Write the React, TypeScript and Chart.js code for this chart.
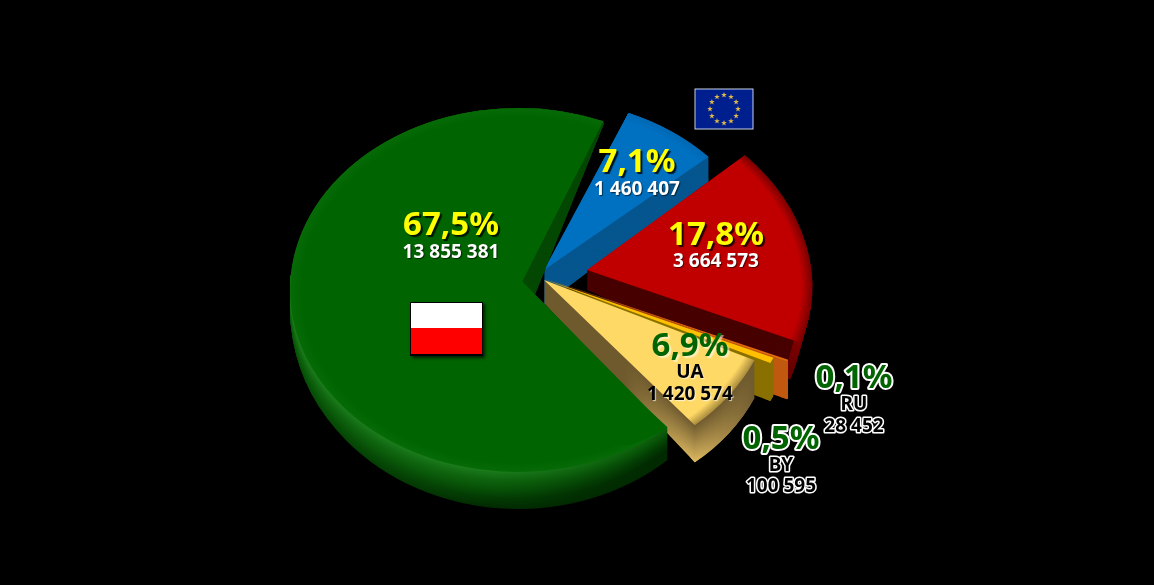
import React, { useEffect, useRef } from "react";
import { Chart, registerables } from "chart.js";

Chart.register(...registerables);

const sliceNames = ["PL", "EU", "Inne", "RU", "BY", "UA"];
const sliceValues = [13855381, 1460407, 3664573, 28452, 100595, 1420574];
const percentTexts = ["67,5%", "7,1%", "17,8%", "0,1%", "0,5%", "6,9%"];
const codeTexts = ["", "", "", "RU", "BY", "UA"];
const valueTexts = ["13 855 381", "1 460 407", "3 664 573", "28 452", "100 595", "1 420 574"];

const topColors = ["#006400", "#0070c0", "#c00000", "#e46c0a", "#ffc000", "#ffd966"];
const rimColors = ["#066a06", "#0068b4", "#7a0000", "#e46c0a", "#ffc000", "#a88a3c"];
const faceColors = ["#044804", "#05568f", "#480000", "#c05a10", "#8a7000", "#6f5a2e"];
const wallStops = [
  ["#1c7c1c", "#0e640e", "#075207", "#033a03", "#012a01"],
  ["#05568f", "#05568f", "#05568f", "#05568f", "#05568f"],
  ["#800000", "#780000", "#700000", "#680000", "#600000"],
  ["#c05a10", "#c05a10", "#c05a10", "#c05a10", "#c05a10"],
  ["#8a7000", "#8a7000", "#8a7000", "#8a7000", "#8a7000"],
  ["#6f5a2e", "#6f5a2e", "#6f5a2e", "#6f5a2e", "#6f5a2e"],
];
const drawOrder = [1, 2, 3, 4, 5, 0];

const sliceFrames = [
  { top: { x: 518, y: 290, ex: 228, ey: 0, nx: 0, ny: -182 }, bottom: { x: 518, y: 309, ex: 228, ey: 0, nx: 0, ny: -200 } },
  { top: { x: 544, y: 270, ex: 221, ey: 2, nx: 2, ny: -170 }, bottom: { x: 544, y: 305, ex: 221, ey: 32, nx: 2, ny: -218 } },
  { top: { x: 587, y: 270, ex: 225, ey: 7, nx: -12, ny: -178 }, bottom: { x: 587, y: 290, ex: 214, ey: 25, nx: -12, ny: -178 } },
  { top: { x: 544, y: 278, ex: 263, ey: 12, nx: 0, ny: -190 }, bottom: { x: 544, y: 316, ex: 263, ey: 12, nx: 0, ny: -190 } },
  { top: { x: 544, y: 279, ex: 248, ey: 7, nx: 0, ny: -190 }, bottom: { x: 544, y: 317, ex: 248, ey: 7, nx: 0, ny: -190 } },
  { top: { x: 544, y: 280, ex: 231, ey: 3, nx: 1, ny: -190 }, bottom: { x: 544, y: 303, ex: 231, ey: 16, nx: 1, ny: -197 } },
];
// Green's rear cut face leans further than its curved wall does.
const greenFaceBottom = { x: 533, y: 300, ex: 228, ey: 0, nx: -15.6, ny: -190 };
// Perspective moves the green apex above the centre of its ellipse.
const greenApexFrame = { x: 518, y: 277, ex: 227, ey: 24.6, nx: 0, ny: -179 };
// Screen x positions of the glow on the UA slice's side near its tip.
const uaGlow = { from: 625, peak: 696, to: 755 };

const labelSpots = [
  { x: 451, p: 235, c: 0, v: 258 },
  { x: 637, p: 172, c: 0, v: 195 },
  { x: 716, p: 245, c: 0, v: 267 },
  { x: 854, p: 388, c: 410, v: 432 },
  { x: 781, p: 449, c: 471, v: 492 },
  { x: 690, p: 356, c: 378, v: 400 },
];
const percentInks = ["#ffff00", "#ffff00", "#ffff00", "#006400", "#006400", "#006400"];

function lerp(a: number, b: number, t: number) {
  return a + (b - a) * t;
}
function hexRgb(h: string) {
  return [1, 3, 5].map((i) => parseInt(h.slice(i, i + 2), 16));
}
function ramp(stops: string[], t: number) {
  const s = Math.min(Math.max(t, 0), 0.9999) * (stops.length - 1);
  const i = Math.floor(s);
  const a = hexRgb(stops[i]);
  const b = hexRgb(stops[i + 1]);
  const c = a.map((v, k) => Math.round(lerp(v, b[k], s - i)));
  return `rgb(${c[0]},${c[1]},${c[2]})`;
}
function mix(top: any, bottom: any, t: number) {
  const o: any = {};
  for (const k of Object.keys(top)) o[k] = lerp(top[k], bottom[k], t);
  return o;
}
function paintArc(ctx: CanvasRenderingContext2D, arc: any, f: any, fill: any, innerRatio: number) {
  const R = arc.outerRadius;
  ctx.save();
  ctx.translate(f.x, f.y);
  ctx.transform(f.ex / R, f.ey / R, -f.nx / R, -f.ny / R, 0, 0);
  ctx.translate(-arc.x, -arc.y);
  const ghost = Object.create(arc);
  ghost.options = { backgroundColor: fill, borderWidth: 0, borderRadius: 0, offset: 0, spacing: 0, circular: true, borderAlign: "center" };
  ghost.innerRadius = R * innerRatio;
  ghost.draw(ctx);
  ctx.restore();
}
function uaSideFill(ctx: CanvasRenderingContext2D, arc: any, f: any, t: number) {
  const R = arc.outerRadius;
  const local = (sx: number) => arc.x + ((sx - f.x) * R) / f.ex;
  const g = ctx.createLinearGradient(local(uaGlow.from), 0, local(uaGlow.to), 0);
  const peak = (uaGlow.peak - uaGlow.from) / (uaGlow.to - uaGlow.from);
  g.addColorStop(0, "#6f5a2e");
  g.addColorStop(peak, ramp(["#6f5a2e", "#dcb860"], t));
  g.addColorStop(1, "#6f5a2e");
  return g;
}
function star(ctx: CanvasRenderingContext2D, x: number, y: number, r: number) {
  ctx.beginPath();
  for (let i = 0; i < 10; i++) {
    const a = -Math.PI / 2 + (i * Math.PI) / 5;
    const q = i % 2 ? r * 0.4 : r;
    ctx.lineTo(x + Math.cos(a) * q, y + Math.sin(a) * q);
  }
  ctx.closePath();
  ctx.fill();
}

const piePainter = {
  id: "piePainter",
  beforeDatasetsDraw(chart: any) {
    const ctx = chart.ctx as CanvasRenderingContext2D;
    const arcs = chart.getDatasetMeta(0).data;
    for (const i of drawOrder) {
      const arc = arcs[i];
      const fr = sliceFrames[i];
      const steps = 44;
      const isGreen = i === 0;
      const isUa = i === 5;
      ctx.save();
      if (isGreen) {
        ctx.beginPath();
        ctx.rect(0, 0, 1154, 300);
        ctx.clip();
      }
      const faceBottom = isGreen ? greenFaceBottom : fr.bottom;
      for (let s = steps; s >= 1; s--) {
        const t = s / steps;
        const f = mix(fr.top, faceBottom, t);
        paintArc(ctx, arc, f, isUa ? uaSideFill(ctx, arc, f, t) : faceColors[i], 0);
      }
      ctx.restore();
      ctx.save();
      if (isGreen) {
        ctx.beginPath();
        ctx.rect(0, 275, 1154, 310);
        ctx.clip();
      }
      for (let s = steps; s >= 1; s--) {
        const t = s / steps;
        const f = mix(fr.top, fr.bottom, t);
        let fill: any = ramp(wallStops[i], t);
        if (isGreen) {
          const g = ctx.createLinearGradient(arc.x - arc.outerRadius, 0, arc.x + arc.outerRadius * 0.6, 0);
          g.addColorStop(0, ramp(wallStops[i], t * 0.55));
          g.addColorStop(0.55, ramp(wallStops[i], t));
          g.addColorStop(1, ramp(wallStops[i], t + 0.3));
          fill = g;
        } else if (isUa) {
          fill = uaSideFill(ctx, arc, f, t);
        }
        paintArc(ctx, arc, f, fill, 0.97);
      }
      ctx.restore();
      const g = ctx.createRadialGradient(arc.x, arc.y, 0, arc.x, arc.y, arc.outerRadius);
      g.addColorStop(0, topColors[i]);
      g.addColorStop(0.95, topColors[i]);
      g.addColorStop(1, rimColors[i]);
      paintArc(ctx, arc, fr.top, g, 0);
      if (isGreen) {
        ctx.save();
        ctx.beginPath();
        ctx.rect(505, 270, 200, 175);
        ctx.clip();
        paintArc(ctx, arc, greenApexFrame, topColors[0], 0);
        ctx.restore();
      }
    }
    return false;
  },
  afterDraw(chart: any) {
    const ctx = chart.ctx as CanvasRenderingContext2D;
    // EU flag
    ctx.fillStyle = "#001f8f";
    ctx.fillRect(695, 89, 58, 40);
    ctx.strokeStyle = "#c8d0e0";
    ctx.lineWidth = 1;
    ctx.strokeRect(695, 89, 58, 40);
    ctx.fillStyle = "#e0b84a";
    for (let i = 0; i < 12; i++) {
      const a = (i * Math.PI) / 6;
      star(ctx, 724 + Math.sin(a) * 14, 109 - Math.cos(a) * 14, 3);
    }
    // Polish flag
    ctx.save();
    ctx.shadowColor = "rgba(0,0,0,0.7)";
    ctx.shadowBlur = 3;
    ctx.shadowOffsetX = 2;
    ctx.shadowOffsetY = 2;
    ctx.fillStyle = "#000";
    ctx.fillRect(410, 302, 73, 54);
    ctx.restore();
    ctx.fillStyle = "#fff";
    ctx.fillRect(411, 303, 71, 26);
    ctx.fillStyle = "#ff0000";
    ctx.fillRect(411, 328, 71, 26);

    ctx.textAlign = "center";
    ctx.textBaseline = "alphabetic";
    ctx.lineJoin = "round";
    const big = 'bold 33px "Noto Sans"';
    const small = 'bold 19px "Noto Sans"';
    labelSpots.forEach((l, i) => {
      const outlined = i === 3 || i === 4;
      const ua = i === 5;
      ctx.font = big;
      ctx.save();
      if (outlined) {
        ctx.strokeStyle = "#fff";
        ctx.lineWidth = 4;
        ctx.strokeText(percentTexts[i], l.x, l.p);
      } else {
        ctx.shadowColor = ua ? "rgba(255,255,255,0.55)" : "rgba(0,0,0,0.8)";
        ctx.shadowBlur = 1;
        ctx.shadowOffsetX = 2;
        ctx.shadowOffsetY = 2;
      }
      ctx.fillStyle = percentInks[i];
      ctx.fillText(percentTexts[i], l.x, l.p);
      ctx.restore();
      ctx.font = small;
      const lines: [string, number][] = [];
      if (codeTexts[i]) lines.push([codeTexts[i], l.c]);
      lines.push([valueTexts[i], l.v]);
      for (const [txt, y] of lines) {
        ctx.save();
        if (outlined) {
          ctx.strokeStyle = "#fff";
          ctx.lineWidth = 3;
          ctx.strokeText(txt, l.x, y);
          ctx.fillStyle = "#000";
        } else if (ua) {
          ctx.shadowColor = "rgba(255,255,255,0.7)";
          ctx.shadowBlur = 1;
          ctx.shadowOffsetX = 1;
          ctx.shadowOffsetY = 1;
          ctx.fillStyle = "#000";
        } else {
          ctx.shadowColor = "rgba(0,0,0,0.6)";
          ctx.shadowBlur = 1;
          ctx.shadowOffsetX = 1;
          ctx.shadowOffsetY = 1;
          ctx.fillStyle = "#fff";
        }
        ctx.fillText(txt, l.x, y);
        ctx.restore();
      }
    });
  },
};

export default function App() {
  const ref = useRef<HTMLCanvasElement>(null);
  useEffect(() => {
    document.body.style.margin = "0";
    document.body.style.background = "#000";
    const chart = new Chart(ref.current as HTMLCanvasElement, {
      type: "pie",
      data: {
        labels: sliceNames,
        datasets: [{ data: sliceValues, backgroundColor: topColors, borderWidth: 0 }],
      },
      options: {
        animation: false,
        responsive: false,
        devicePixelRatio: 1,
        rotation: 139,
        plugins: { legend: { display: false }, tooltip: { enabled: false } },
      },
      plugins: [piePainter],
    } as any);
    return () => chart.destroy();
  }, []);
  return <canvas ref={ref} width={1154} height={585} style={{ display: "block", background: "#000" }} />;
}
